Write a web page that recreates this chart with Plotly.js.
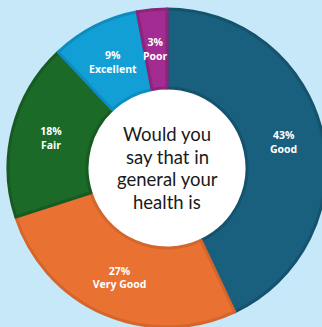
<!DOCTYPE html>
<html>
<head>
<meta charset="utf-8">
<script src="https://cdn.plot.ly/plotly-3.0.1.min.js"></script>
<style>
html,body{margin:0;padding:0;background:#c7e8f8;overflow:hidden;width:322px;height:327px;}
#chart{width:340px;height:340px;}
</style>
</head>
<body>
<div id="chart"></div>
<script>
const categories = ["Good", "Very Good", "Fair", "Excellent", "Poor"];
const percentages = [43, 27, 18, 9, 3];
const sliceColors = ["#195f7e", "#e97233", "#1b6a28", "#129fd5", "#a22c91"];
const edgeColors = ["#14526e", "#d4652b", "#175b22", "#0f8cbf", "#8c247c"];
const centerLines = ["Would you", "say that in", "general your", "health is"];
// slices whose label is too wide for the wedge and is placed as an annotation
const smallSlices = ["Excellent", "Poor"];

const W = 340, H = 340;
const cx = 167, cy = 168, R = 159, HOLE = 0.503;

const labelFont = {family: "Open Sans, sans-serif", size: 10.5, color: "#ffffff", weight: 700};

const trace = {
  type: "pie",
  values: percentages,
  labels: categories,
  sort: false,
  direction: "clockwise",
  rotation: 0,
  hole: HOLE,
  marker: {colors: sliceColors, line: {color: edgeColors, width: 3}},
  texttemplate: "%{value}%<br>%{label}",
  textposition: categories.map(c => smallSlices.includes(c) ? "none" : "inside"),
  insidetextorientation: "horizontal",
  textfont: labelFont,
  hoverinfo: "skip",
  showlegend: false,
  domain: {x: [(cx - R) / W, (cx + R) / W], y: [1 - (cy + R) / H, 1 - (cy - R) / H]}
};

const annotations = centerLines.map((t, i) => ({
  text: t,
  xref: "paper", yref: "paper",
  x: cx / W, y: 1 - cy / H,
  xanchor: "center", yanchor: "middle",
  yshift: (1.5 - i) * 22.5,
  showarrow: false,
  font: {family: "Lato, sans-serif", size: 18.5, color: "#1a1a1a"}
}));

// labels of the small slices at the middle of their wedge
const total = percentages.reduce((a, b) => a + b, 0);
let cum = 0;
const rMid = R * (1 + HOLE) / 2;
percentages.forEach((v, i) => {
  const mid = (cum + v / 2) / total * 2 * Math.PI;
  cum += v;
  if (!smallSlices.includes(categories[i])) return;
  annotations.push({
    text: v + "%<br>" + categories[i],
    xref: "paper", yref: "paper",
    x: (cx + rMid * Math.sin(mid)) / W,
    y: 1 - (cy - rMid * Math.cos(mid)) / H,
    xanchor: "center", yanchor: "middle",
    showarrow: false,
    font: labelFont
  });
});

const layout = {
  width: W, height: H,
  margin: {l: 0, r: 0, t: 0, b: 0},
  paper_bgcolor: "#c7e8f8",
  plot_bgcolor: "#c7e8f8",
  uniformtext: {mode: "show", minsize: 10.5},
  annotations: annotations,
  shapes: [{
    type: "circle", xref: "paper", yref: "paper", layer: "below",
    x0: (cx - 80) / W, x1: (cx + 80) / W, y0: 1 - (cy + 80) / H, y1: 1 - (cy - 80) / H,
    fillcolor: "#ffffff", line: {width: 0}
  }]
};

Plotly.newPlot("chart", [trace], layout, {displayModeBar: false, staticPlot: true});
</script>
</body>
</html>
